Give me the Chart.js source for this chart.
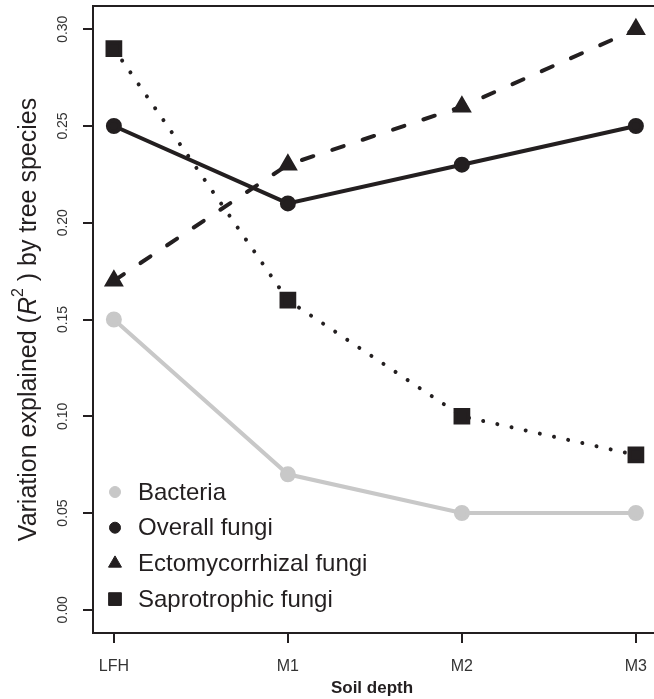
<!DOCTYPE html>
<html>
<head>
<meta charset="utf-8">
<script src="https://cdn.jsdelivr.net/npm/chart.js@4.4.1/dist/chart.umd.min.js"></script>
<style>
  html, body { margin: 0; padding: 0; background: #fff; overflow: hidden; }
  #wrap { width: 654px; height: 699px; }
</style>
</head>
<body>
<div id="wrap"><canvas id="soil" width="654" height="699"></canvas></div>
<script>
// values
var depthLabels = ['LFH', 'M1', 'M2', 'M3'];
var bacteria = [0.15, 0.07, 0.05, 0.05];
var overallFungi = [0.25, 0.21, 0.23, 0.25];
var ectoFungi = [0.17, 0.23, 0.26, 0.30];
var saproFungi = [0.29, 0.16, 0.10, 0.08];
var yTicks = [0, 0.05, 0.10, 0.15, 0.20, 0.25, 0.30];

var ink = '#231f20';
var grey = '#c8c8c8';
var fontFam = '"Liberation Sans", Arial, sans-serif';

function pts(arr) {
    return arr.map(function (v, i) { return { x: i, y: v }; });
}

// legend drawn inside the plot, bottom left, like the original
var insideLegend = {
    id: 'insideLegend',
    afterDatasetsDraw: function (chart) {
        var ctx = chart.ctx;
        var a = chart.chartArea;
        var x0 = a.left + 22, tx = a.left + 45;
        var y0 = a.bottom - 141, step = 35.7;
        ctx.save();
        ctx.font = '24px ' + fontFam;
        ctx.textBaseline = 'middle';
        ctx.textAlign = 'left';
        chart.data.datasets.forEach(function (ds, i) {
            var y = y0 + i * step;
            ctx.fillStyle = ds.pointBackgroundColor;
            ctx.strokeStyle = ds.pointBorderColor;
            ctx.lineWidth = 1;
            Chart.helpers.drawPoint(ctx, {
                pointStyle: ds.pointStyle,
                radius: ds.pointStyle == 'circle' ? 5.5 : ds.pointRadius,
                borderWidth: 1
            }, x0, y);
            ctx.fillStyle = ink;
            ctx.fillText(ds.label, tx, y + 1);
        });
        ctx.restore();
    }
};

// box, rotated y tick labels and axis titles (R style)
var frame = {
    id: 'frame',
    afterDraw: function (chart) {
        var ctx = chart.ctx;
        var a = chart.chartArea;
        var ys = chart.scales.y;
        ctx.save();
        ctx.strokeStyle = ink;
        ctx.lineWidth = 2;
        ctx.beginPath();
        ctx.moveTo(a.right + 5, a.top);
        ctx.lineTo(a.left, a.top);
        ctx.lineTo(a.left, a.bottom);
        ctx.lineTo(a.right + 5, a.bottom);
        ctx.stroke();

        ctx.fillStyle = '#333';
        ctx.font = '14px ' + fontFam;
        ctx.textAlign = 'center';
        ctx.textBaseline = 'middle';
        yTicks.forEach(function (v) {
            ctx.save();
            ctx.translate(a.left - 30, ys.getPixelForValue(v));
            ctx.rotate(-Math.PI / 2);
            ctx.fillText(v.toFixed(2), 0, 0);
            ctx.restore();
        });

        // y title with italic R and superscript 2
        var parts = [
            { t: 'Variation explained (', f: '25px ' + fontFam, dy: 0 },
            { t: 'R', f: 'italic 25px ' + fontFam, dy: 0 },
            { t: '2', f: '16px ' + fontFam, dy: -10 },
            { t: ' ) by tree species', f: '25px ' + fontFam, dy: 0 }
        ];
        var total = 0;
        parts.forEach(function (p) { ctx.font = p.f; p.w = ctx.measureText(p.t).width; total += p.w; });
        ctx.save();
        ctx.translate(29, (a.top + a.bottom) / 2);
        ctx.rotate(-Math.PI / 2);
        ctx.textAlign = 'left';
        ctx.textBaseline = 'middle';
        ctx.fillStyle = ink;
        var cx = -total / 2;
        parts.forEach(function (p) {
            ctx.font = p.f;
            ctx.fillText(p.t, cx, p.dy);
            cx += p.w;
        });
        ctx.restore();

        ctx.font = 'bold 17px ' + fontFam;
        ctx.textAlign = 'center';
        ctx.fillStyle = ink;
        ctx.fillText('Soil depth', 372, 688);
        ctx.restore();
    }
};

var ctx = document.getElementById('soil').getContext('2d');
var chart = new Chart(ctx, {
    type: 'line',
    data: {
        datasets: [{
            label: 'Bacteria',
            data: pts(bacteria),
            borderColor: grey,
            borderWidth: 4,
            pointStyle: 'circle',
            pointRadius: 6,
            pointBackgroundColor: grey,
            pointBorderColor: grey
        }, {
            label: 'Overall fungi',
            data: pts(overallFungi),
            borderColor: ink,
            borderWidth: 4,
            pointStyle: 'circle',
            pointRadius: 6,
            pointBackgroundColor: ink,
            pointBorderColor: ink
        }, {
            label: 'Ectomycorrhizal fungi',
            data: pts(ectoFungi),
            borderColor: ink,
            borderWidth: 4,
            borderDash: [12, 20],
            borderCapStyle: 'round',
            pointStyle: 'triangle',
            pointRadius: 7.5,
            pointBackgroundColor: ink,
            pointBorderColor: ink
        }, {
            label: 'Saprotrophic fungi',
            data: pts(saproFungi),
            borderColor: ink,
            borderWidth: 4,
            borderDash: [0.01, 14.5],
            borderCapStyle: 'round',
            pointStyle: 'rect',
            pointRadius: 9,
            pointBackgroundColor: ink,
            pointBorderColor: ink
        }]
    },
    options: {
        responsive: false,
        animation: false,
        layout: { autoPadding: false, padding: { top: 6, right: 0, left: 0, bottom: 0 } },
        elements: { line: { tension: 0, fill: false } },
        plugins: {
            legend: { display: false },
            tooltip: { enabled: false }
        },
        scales: {
            x: {
                type: 'linear',
                min: -0.12,
                max: 3.104,
                afterBuildTicks: function (scale) {
                    scale.ticks = depthLabels.map(function (l, i) { return { value: i }; });
                },
                afterFit: function (scale) {
                    scale.height = 66;
                    scale.paddingLeft = 0;
                    scale.paddingRight = 0;
                },
                border: { display: false },
                grid: { drawOnChartArea: false, drawTicks: true, tickLength: 10, color: ink, lineWidth: 2 },
                ticks: {
                    padding: 14,
                    color: '#333',
                    font: { family: fontFam, size: 16 },
                    maxRotation: 0,
                    callback: function (v) { return depthLabels[v]; }
                }
            },
            y: {
                min: -0.012,
                max: 0.312,
                afterBuildTicks: function (scale) {
                    scale.ticks = yTicks.map(function (v) { return { value: v }; });
                },
                afterFit: function (scale) {
                    scale.width = 93;
                    scale.paddingTop = 0;
                    scale.paddingBottom = 0;
                },
                border: { display: false },
                grid: { drawOnChartArea: false, drawTicks: true, tickLength: 10, color: ink, lineWidth: 2 },
                ticks: { display: false }
            }
        }
    },
    plugins: [insideLegend, frame]
});
</script>
</body>
</html>
